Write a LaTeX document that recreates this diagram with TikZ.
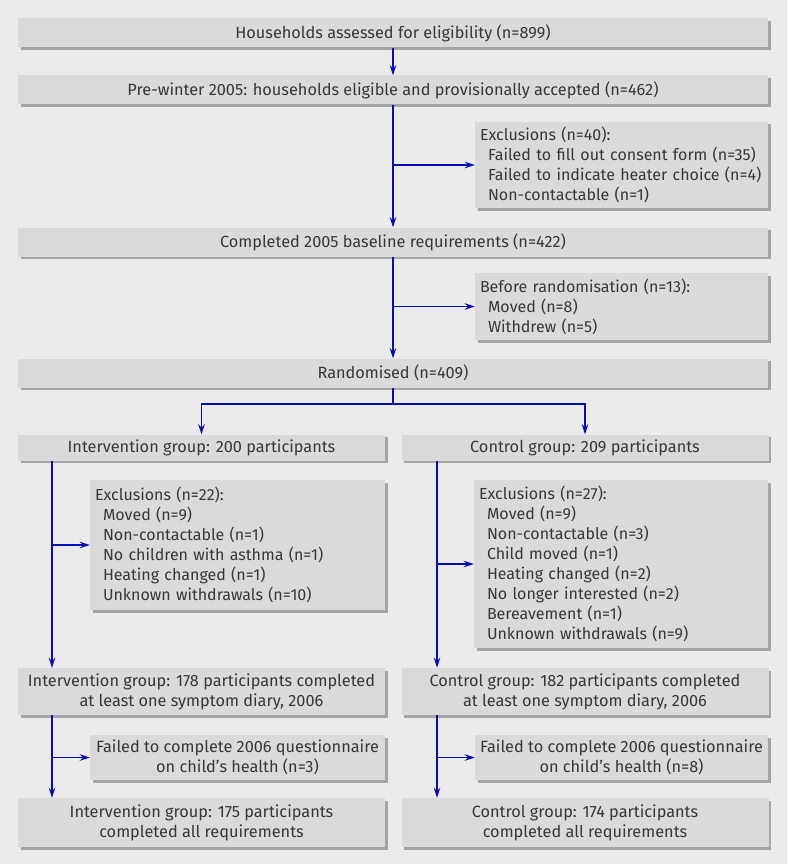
\documentclass[tikz,border=0pt]{standalone}
\usepackage{fontspec}
\setmainfont{Fira Sans}
\usepackage{xcolor}
\usetikzlibrary{arrows.meta,positioning,calc,shadows}
\definecolor{clrBg}{RGB}{235,235,235}
\definecolor{clrBox}{RGB}{218,218,218}
\definecolor{clrShd}{RGB}{165,165,165}
\definecolor{clrTxt}{RGB}{55,55,55}
\definecolor{clrArr}{RGB}{10,10,185}
\newcommand{\ind}{\hspace*{8pt}}
\tikzset{
  flowbox/.style={rectangle,fill=clrBox,text=clrTxt,inner sep=0pt,align=center,
    font=\fontsize{16.3}{20}\selectfont,
    drop shadow={shadow xshift=2.5pt,shadow yshift=-2.5pt,fill=clrShd,opacity=1}},
  mainbox/.style={flowbox,minimum width=750pt,minimum height=29pt},
  groupbox/.style={flowbox,minimum width=367pt,minimum height=26pt},
  exclbox/.style={flowbox,align=left,inner xsep=5pt,font=\fontsize{16}{20}\selectfont},
  arrow/.style={-{Stealth[length=10pt,width=6.5pt]},line width=1.7pt,color=clrArr},
  wire/.style={line width=1.7pt,color=clrArr}
}

\begin{document}
\begin{tikzpicture}[x=1pt,y=-1pt]
  \fill[clrBg] (0,0) rectangle (787,864);
  \useasboundingbox (0,0) rectangle (787,864);
  \node[mainbox] (assessed) at (393,33) {Households assessed for eligibility (n=899)};
  \node[mainbox] (eligible) at (393,90)
    {Pre-winter 2005: households eligible and provisionally accepted (n=462)};
  \node[exclbox,text width=283pt,minimum height=86pt] (excl40) at (621.5,165)
    {Exclusions (n=40):\\\ind Failed to fill out consent form (n=35)\\\ind Failed to indicate heater choice (n=4)\\\ind Non-contactable (n=1)};
  \node[mainbox] (baseline) at (393,242) {Completed 2005 baseline requirements (n=422)};
  \node[exclbox,text width=283pt,minimum height=67pt] (beforerand) at (621.5,306.5)
    {Before randomisation (n=13):\\\ind Moved (n=8)\\\ind Withdrew (n=5)};
  \node[mainbox] (randomised) at (393,373) {Randomised (n=409)};
  \node[groupbox] (interv) at (201.5,447.5) {Intervention group: 200 participants};
  \node[groupbox] (control) at (585,447.5) {Control group: 209 participants};
  \node[exclbox,text width=285pt,minimum height=130pt] (exclI) at (237.5,545)
    {Exclusions (n=22):\\\ind Moved (n=9)\\\ind Non-contactable (n=1)\\\ind No children with asthma (n=1)\\\ind Heating changed (n=1)\\\ind Unknown withdrawals (n=10)};
  \node[exclbox,text width=284pt,minimum height=168pt] (exclC) at (621,564)
    {Exclusions (n=27):\\\ind Moved (n=9)\\\ind Non-contactable (n=3)\\\ind Child moved (n=1)\\\ind Heating changed (n=2)\\\ind No longer interested (n=2)\\\ind Bereavement (n=1)\\\ind Unknown withdrawals (n=9)};
  \node[groupbox,minimum height=47pt] (diaryI) at (201.5,691.5)
    {Intervention group: 178 participants completed\\at least one symptom diary, 2006};
  \node[groupbox,minimum height=47pt] (diaryC) at (585,691.5)
    {Control group: 182 participants completed\\at least one symptom diary, 2006};
  \node[flowbox,minimum width=295pt,minimum height=45pt] (qnI) at (237.5,757.5)
    {Failed to complete 2006 questionnaire\\on child’s health (n=3)};
  \node[flowbox,minimum width=293pt,minimum height=45pt] (qnC) at (621.5,757.5)
    {Failed to complete 2006 questionnaire\\on child’s health (n=8)};
  \node[groupbox,minimum height=49pt] (doneI) at (201.5,822.5)
    {Intervention group: 175 participants\\completed all requirements};
  \node[groupbox,minimum height=49pt] (doneC) at (585,822.5)
    {Control group: 174 participants\\completed all requirements};
  \coordinate (split) at (393,404);
  \coordinate (laneI) at (52,0);
  \coordinate (laneC) at (437,0);
  \draw[arrow] (assessed) -- (eligible);
  \draw[arrow] (eligible) -- (baseline);
  \draw[arrow] (eligible.south |- excl40.west) -- (excl40.west);
  \draw[arrow] (baseline) -- (randomised);
  \draw[arrow] (baseline.south |- beforerand.west) -- (beforerand.west);
  \draw[wire] (randomised) -- (split);
  \draw[arrow] (split) -| (interv.north);
  \draw[arrow] (split) -| (control.north);
  \draw[arrow] (laneI |- interv.south) -- (laneI |- diaryI.north);
  \draw[arrow] (laneI |- exclI.west) -- (exclI.west);
  \draw[arrow] (laneC |- control.south) -- (laneC |- diaryC.north);
  \draw[arrow] (laneC |- exclC.west) -- (exclC.west);
  \draw[arrow] (laneI |- diaryI.south) -- (laneI |- doneI.north);
  \draw[arrow] (laneI |- qnI.west) -- (qnI.west);
  \draw[arrow] (laneC |- diaryC.south) -- (laneC |- doneC.north);
  \draw[arrow] (laneC |- qnC.west) -- (qnC.west);
\end{tikzpicture}
\end{document}
